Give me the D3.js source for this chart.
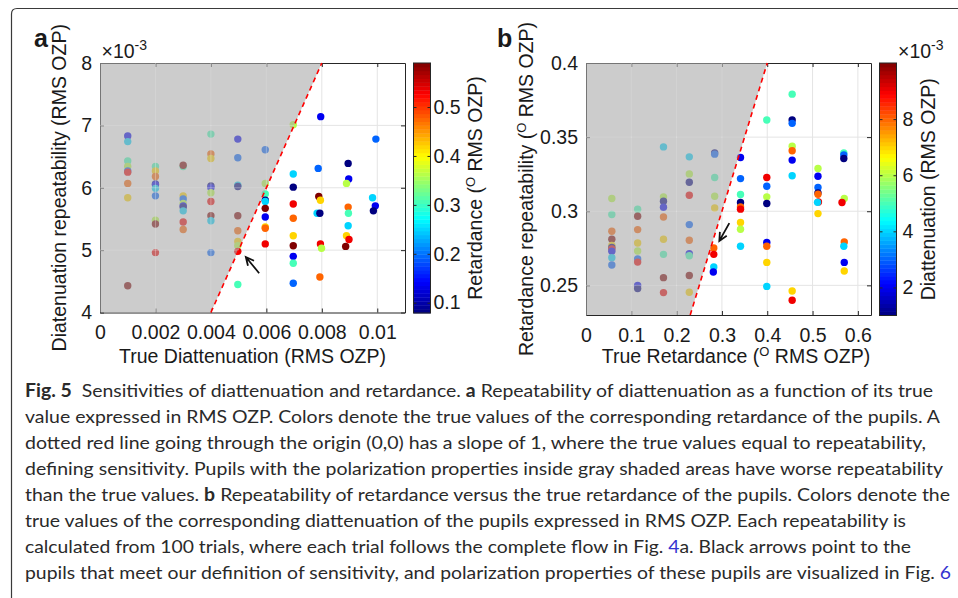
<!DOCTYPE html>
<html lang="en">
<head>
<meta charset="UTF-8">
<title>Fig. 5 sensitivities</title>
<script src="https://cdn.jsdelivr.net/npm/d3@7"></script>
<style>
  body { margin: 0; background: #fff; }
  svg { display: block; }
  text { font-family: "Liberation Sans", Arial, Helvetica, sans-serif; fill: #1a1a1a; }
  text.cap { font-family: Lato, "Open Sans", sans-serif; white-space: pre; fill: #2a2a2a; }
</style>
</head>
<body>
<svg></svg>
<script>
  const width = 958, height = 598

  // ---- panel a: diattenuation (true vs repeatability), colour = retardance
  const diatTrue = [
    0.001, 0.001, 0.001, 0.001, 0.001, 0.001, 0.001, 0.001, 0.001,
    0.002, 0.002, 0.002, 0.002, 0.002, 0.002, 0.002, 0.002, 0.002, 0.002,
    0.003, 0.003, 0.003, 0.003, 0.003, 0.003, 0.003, 0.003, 0.003, 0.003,
    0.004, 0.004, 0.004, 0.004, 0.004, 0.004, 0.004, 0.004, 0.004, 0.004,
    0.00497, 0.00497, 0.00497, 0.00497, 0.00497, 0.00497, 0.00497, 0.00497, 0.00497, 0.00497,
    0.00596, 0.00596, 0.00596, 0.00596, 0.00596, 0.00596, 0.00596, 0.00596, 0.00596, 0.00596,
    0.00697, 0.00697, 0.00697, 0.00697, 0.00697, 0.00697, 0.00697, 0.00697, 0.00697, 0.00697,
    0.00796, 0.00787, 0.00789, 0.00795, 0.00783, 0.00793, 0.00795, 0.00799, 0.00793,
    0.00895, 0.00897, 0.00889, 0.00895, 0.00896, 0.00895, 0.00889, 0.00898, 0.00886,
    0.00995, 0.00983, 0.00993, 0.00986
  ]
  const diatRep = [
    0.00683, 0.00674, 0.00643, 0.00634, 0.00627, 0.00625, 0.00607, 0.00584, 0.00443,
    0.00634, 0.00627, 0.00618, 0.00606, 0.00605, 0.00599, 0.00587, 0.00548, 0.00542, 0.00496,
    0.00634, 0.00636, 0.00587, 0.00582, 0.00575, 0.00571, 0.00569, 0.00563, 0.00545, 0.00533,
    0.00686, 0.00654, 0.00647, 0.00603, 0.00600, 0.00592, 0.00578, 0.00555, 0.00547, 0.00496,
    0.00678, 0.00648, 0.00604, 0.00602, 0.00555, 0.00531, 0.00514, 0.00507, 0.00498, 0.00445,
    0.00661, 0.00607, 0.00590, 0.00580, 0.00578, 0.00567, 0.00553, 0.00537, 0.00535, 0.00510,
    0.00701, 0.00622, 0.00601, 0.00574, 0.00551, 0.00523, 0.00507, 0.00490, 0.00479, 0.00447,
    0.00714, 0.00631, 0.00586, 0.00580, 0.00559, 0.00559, 0.00510, 0.00503, 0.00457,
    0.00639, 0.00614, 0.00607, 0.00569, 0.00559, 0.00539, 0.00523, 0.00517, 0.00506,
    0.00678, 0.00584, 0.00571, 0.00563
  ]
  const diatRetColor = [
    0.136, 0.249, 0.306, 0.363, 0.193, 0.533, 0.476, 0.420, 0.590,
    0.306, 0.420, 0.476, 0.079, 0.136, 0.249, 0.193, 0.363, 0.590, 0.533,
    0.306, 0.590, 0.420, 0.193, 0.363, 0.136, 0.079, 0.249, 0.533, 0.476,
    0.306, 0.476, 0.420, 0.079, 0.136, 0.363, 0.533, 0.590, 0.249, 0.193,
    0.136, 0.193, 0.249, 0.079, 0.590, 0.476, 0.420, 0.363, 0.533, 0.306,
    0.193, 0.363, 0.306, 0.079, 0.249, 0.590, 0.136, 0.420, 0.476, 0.533,
    0.363, 0.249, 0.079, 0.533, 0.476, 0.420, 0.590, 0.136, 0.306, 0.193,
    0.136, 0.193, 0.590, 0.420, 0.249, 0.079, 0.533, 0.363, 0.476,
    0.079, 0.136, 0.363, 0.476, 0.306, 0.249, 0.420, 0.533, 0.590,
    0.193, 0.249, 0.136, 0.079
  ]

  // ---- panel b: retardance (true vs repeatability), colour = diattenuation
  const retTrue = [
    0.057, 0.057, 0.057, 0.057, 0.057, 0.057, 0.057, 0.057, 0.057, 0.057,
    0.114, 0.114, 0.114, 0.114, 0.114, 0.114, 0.114, 0.114, 0.114,
    0.171, 0.171, 0.171, 0.171, 0.171, 0.171, 0.171, 0.171, 0.171,
    0.228, 0.228, 0.228, 0.228, 0.228, 0.228, 0.228, 0.228, 0.228, 0.228,
    0.284, 0.284, 0.284, 0.284, 0.284, 0.282, 0.282, 0.282, 0.281,
    0.341, 0.341, 0.341, 0.341, 0.341, 0.341, 0.341, 0.341, 0.341,
    0.399, 0.399, 0.399, 0.399, 0.399, 0.399, 0.399, 0.399, 0.399,
    0.455, 0.455, 0.455, 0.455, 0.455, 0.455, 0.455, 0.455, 0.455,
    0.512, 0.512, 0.512, 0.512, 0.512, 0.513, 0.511, 0.512,
    0.569, 0.569, 0.569, 0.570, 0.565, 0.570, 0.569, 0.570, 0.570
  ]
  const retRep = [
    0.3086, 0.2978, 0.2865, 0.2811, 0.2770, 0.2755, 0.2745, 0.2730, 0.2687, 0.2637,
    0.3014, 0.2966, 0.2876, 0.2786, 0.2732, 0.2678, 0.2657, 0.2500, 0.2478,
    0.3434, 0.3097, 0.3068, 0.3027, 0.2961, 0.2811, 0.2709, 0.2552, 0.2451,
    0.3367, 0.3252, 0.3196, 0.3108, 0.2910, 0.2804, 0.2714, 0.2700, 0.2566, 0.2453,
    0.3394, 0.3385, 0.3228, 0.3101, 0.3022, 0.2752, 0.2709, 0.2624, 0.2590,
    0.3363, 0.3220, 0.3113, 0.3059, 0.3029, 0.3014, 0.2924, 0.2878, 0.2764,
    0.3615, 0.3228, 0.3169, 0.3097, 0.3052, 0.2789, 0.2764, 0.2655, 0.2493,
    0.3790, 0.3615, 0.3593, 0.3439, 0.3408, 0.3345, 0.3239, 0.2462, 0.2399,
    0.3288, 0.3236, 0.3160, 0.3124, 0.3115, 0.3063, 0.3060, 0.2984,
    0.3394, 0.3380, 0.3356, 0.3086, 0.3059, 0.2793, 0.2764, 0.2655, 0.2597
  ]
  const retDiatColor = [
    0.006, 0.005, 0.008, 0.010, 0.007, 0.001, 0.009, 0.002, 0.004, 0.003,
    0.005, 0.010, 0.008, 0.007, 0.006, 0.003, 0.009, 0.002, 0.001,
    0.004, 0.006, 0.001, 0.002, 0.008, 0.007, 0.005, 0.010, 0.009,
    0.004, 0.006, 0.001, 0.009, 0.003, 0.008, 0.002, 0.005, 0.010, 0.007,
    0.001, 0.003, 0.005, 0.006, 0.007, 0.008, 0.009, 0.004, 0.002,
    0.002, 0.003, 0.005, 0.001, 0.008, 0.009, 0.007, 0.006, 0.004,
    0.005, 0.009, 0.003, 0.006, 0.001, 0.002, 0.008, 0.007, 0.004,
    0.005, 0.001, 0.003, 0.006, 0.008, 0.002, 0.004, 0.007, 0.009,
    0.006, 0.002, 0.003, 0.001, 0.008, 0.009, 0.004, 0.007,
    0.005, 0.003, 0.001, 0.006, 0.009, 0.008, 0.004, 0.002, 0.007
  ]

  // ticks
  const aXTicks = [0, 0.002, 0.004, 0.006, 0.008, 0.01]
  const aYTicks = [0.004, 0.005, 0.006, 0.007, 0.008]
  const aCbTicks = [0.1, 0.2, 0.3, 0.4, 0.5]
  const bXTicks = [0, 0.1, 0.2, 0.3, 0.4, 0.5, 0.6]
  const bYTicks = [0.25, 0.3, 0.35, 0.4]
  const bCbTicks = [0.002, 0.004, 0.006, 0.008]

  // arrows [tail, head] in data units
  const aArrow = [[0.00574, 0.00463], [0.00526, 0.00489]]
  const bArrow = [[0.3163, 0.292], [0.2943, 0.2800]]

  const captionLines = [
    [['Fig. 5', 1], ['  Sensitivities of diattenuation and retardance. '], ['a', 1], [' Repeatability of diattenuation as a function of its true']],
    [['value expressed in RMS OZP. Colors denote the true values of the corresponding retardance of the pupils. A']],
    [['dotted red line going through the origin (0,0) has a slope of 1, where the true values equal to repeatability,']],
    [['defining sensitivity. Pupils with the polarization properties inside gray shaded areas have worse repeatability']],
    [['than the true values. '], ['b', 1], [' Repeatability of retardance versus the true retardance of the pupils. Colors denote the']],
    [['true values of the corresponding diattenuation of the pupils expressed in RMS OZP. Each repeatability is']],
    [['calculated from 100 trials, where each trial follows the complete flow in Fig. '], ['4', 2], ['a. Black arrows point to the']],
    [['pupils that meet our definition of sensitivity, and polarization properties of these pupils are visualized in Fig. '], ['6', 2]]
  ]
  const captionEnds = [933, 940, 926, 943, 950, 906, 911, 951]

  // MATLAB-like jet
  const jet = t => {
    const c = v => Math.max(0, Math.min(1, v)) * 255
    return d3.rgb(c(1.5 - Math.abs(4 * t - 3)), c(1.5 - Math.abs(4 * t - 2)), c(1.5 - Math.abs(4 * t - 1))).toString()
  }

  const svg = d3.select('svg')
      .attr('width', width)
      .attr('height', height)
      .attr('viewBox', [0, 0, width, height])

  // frame
  svg.append('path')
      .attr('d', `M11.5,${height} L11.5,14 Q11.5,8.5 17,8.5 L${width},8.5`)
      .attr('fill', 'none')
      .attr('stroke', '#3a3a3a')
      .attr('stroke-width', 1.2)

  const axisColor = '#262626'
  const fs = 19.5

  // "pre (^O rest" style label with a raised O
  function supLabel(sel, pre, s, rest) {
    sel.append('tspan').text(pre)
    sel.append('tspan').attr('font-size', 13).attr('dy', -7).text(s)
    sel.append('tspan').attr('dy', 7).text(rest)
  }

  function drawPanel(p) {
    const x = d3.scaleLinear().domain(p.xDomain).range([p.left, p.right])
    const y = d3.scaleLinear().domain(p.yDomain).range([p.bottom, p.top])
    const c = d3.scaleSequential(jet).domain(p.cDomain)
    const g = svg.append('g')

    const defs = g.append('defs')
    defs.append('clipPath').attr('id', p.id + '-clip')
        .append('rect')
        .attr('x', p.left).attr('y', p.top)
        .attr('width', p.right - p.left).attr('height', p.bottom - p.top)

    const [x0] = p.xDomain, [y0, y1] = p.yDomain
    const shade = [[x0, y0], [y0, y0], [y1, y1], [x0, y1]].map(d => [x(d[0]), y(d[1])])
    defs.append('clipPath').attr('id', p.id + '-shade')
        .append('polygon').attr('points', shade.join(' '))

    const grid = (sel, color, op) => {
      sel.selectAll('line.gx').data(p.xTicks.filter(d => d > x0)).join('line')
          .attr('class', 'gx')
          .attr('x1', d => x(d)).attr('x2', d => x(d))
          .attr('y1', p.top).attr('y2', p.bottom)
          .attr('stroke', color).attr('stroke-opacity', op)
      sel.selectAll('line.gy').data(p.yTicks.filter(d => d > y0 && d < y1)).join('line')
          .attr('class', 'gy')
          .attr('y1', d => y(d)).attr('y2', d => y(d))
          .attr('x1', p.left).attr('x2', p.right)
          .attr('stroke', color).attr('stroke-opacity', op)
    }
    g.append('g').call(grid, '#e4e4e4', 1)

    // points
    g.append('g')
        .attr('clip-path', `url(#${p.id}-clip)`)
        .selectAll('circle')
        .data(p.xs.map((d, i) => ({x: d, y: p.ys[i], c: p.cs[i]})))
        .join('circle')
        .attr('cx', d => x(d.x))
        .attr('cy', d => y(d.y))
        .attr('r', 3.7)
        .attr('fill', d => c(d.c))

    // axes
    const style = sel => {
      sel.attr('font-size', fs).attr('font-family', null)
      sel.select('.domain').attr('stroke', axisColor)
      sel.selectAll('.tick line').attr('stroke', axisColor)
    }
    g.append('g').attr('transform', `translate(0,${p.bottom})`)
        .call(d3.axisBottom(x).tickValues(p.xTicks).tickFormat(p.xFmt).tickSize(-4).tickSizeOuter(0).tickPadding(13))
        .call(style)
    g.append('g').attr('transform', `translate(0,${p.top})`)
        .call(d3.axisTop(x).tickValues(p.xTicks).tickFormat('').tickSize(-4).tickSizeOuter(0))
        .call(style)
    g.append('g').attr('transform', `translate(${p.left},0)`)
        .call(d3.axisLeft(y).tickValues(p.yTicks).tickFormat(p.yFmt).tickSize(-4).tickSizeOuter(0).tickPadding(8))
        .call(style)
    g.append('g').attr('transform', `translate(${p.right},0)`)
        .call(d3.axisRight(y).tickValues(p.yTicks).tickFormat('').tickSize(-4).tickSizeOuter(0))
        .call(style)

    // grey region where repeatability is worse than the true value
    g.append('polygon')
        .attr('points', shade.join(' '))
        .attr('fill', 'rgb(170,170,170)')
        .attr('fill-opacity', 0.6)
    g.append('g').attr('clip-path', `url(#${p.id}-shade)`).call(grid, '#ffffff', 0.3)

    // y = x line
    g.append('line')
        .attr('x1', x(y0)).attr('y1', y(y0))
        .attr('x2', x(y1)).attr('y2', y(y1))
        .attr('stroke', '#ff0000')
        .attr('stroke-width', 1.6)
        .attr('stroke-dasharray', '5,4')

    // arrow
    const [t, h] = p.arrow.map(d => [x(d[0]), y(d[1])])
    const ang = Math.atan2(t[1] - h[1], t[0] - h[0])
    const barb = s => [h[0] + 9 * Math.cos(ang + s), h[1] + 9 * Math.sin(ang + s)]
    g.append('path')
        .attr('d', `M${t}L${h}M${barb(0.45)}L${h}L${barb(-0.45)}`)
        .attr('fill', 'none')
        .attr('stroke', '#111')
        .attr('stroke-width', 1.8)

    // colour bar
    const cb = p.cb
    const cy = d3.scaleLinear().domain(p.cDomain).range([cb.bottom, cb.top])
    const n = 64
    g.append('g').selectAll('rect')
        .data(d3.range(n))
        .join('rect')
        .attr('x', cb.left)
        .attr('width', cb.right - cb.left)
        .attr('y', i => cy(p.cDomain[0] + (i + 1) * (p.cDomain[1] - p.cDomain[0]) / n))
        .attr('height', (cb.bottom - cb.top) / n + 0.4)
        .attr('fill', i => jet((i + 0.5) / n))
    g.append('rect')
        .attr('x', cb.left).attr('y', cb.top)
        .attr('width', cb.right - cb.left).attr('height', cb.bottom - cb.top)
        .attr('fill', 'none').attr('stroke', axisColor)
    g.append('g').attr('transform', `translate(${cb.right},0)`)
        .call(d3.axisRight(cy).tickValues(p.cTicks).tickFormat(p.cFmt).tickSize(-3).tickSizeOuter(0).tickPadding(cb.pad))
        .call(style)
        .call(s => s.select('.domain').remove())
    g.append('g').attr('transform', `translate(${cb.left},0)`)
        .call(d3.axisLeft(cy).tickValues(p.cTicks).tickFormat('').tickSize(-3).tickSizeOuter(0))
        .call(style)
        .call(s => s.select('.domain').remove())

    // labels
    g.append('text')
        .attr('x', p.labelX).attr('y', 47)
        .attr('font-size', 25).attr('font-weight', 'bold')
        .text(p.letter)

    const xl = g.append('text')
        .attr('x', p.xLabelX).attr('y', 363)
        .attr('text-anchor', 'middle').attr('font-size', fs)
    p.xLabel(xl)

    const yl = g.append('text')
        .attr('transform', `translate(${p.yLabelX},${(p.top + p.bottom) / 2}) rotate(-90)`)
        .attr('text-anchor', 'middle').attr('font-size', fs)
    p.yLabel(yl)

    const cl = g.append('text')
        .attr('transform', `translate(${cb.labelX},${(cb.top + cb.bottom) / 2}) rotate(-90)`)
        .attr('text-anchor', 'middle').attr('font-size', fs)
    p.cLabel(cl)

    if (p.expo) {
      const e = g.append('text')
          .attr('x', p.expo[0]).attr('y', p.expo[1])
          .attr('font-size', fs)
          .text('\u00d710')
      e.append('tspan').attr('font-size', 14).attr('dy', -8).text('-3')
    }
  }

  const fmt = d => d === 0 ? '0' : String(+d.toFixed(4))

  drawPanel({
    id: 'a', letter: 'a', labelX: 34,
    left: 100, right: 405, top: 63, bottom: 312.5,
    xDomain: [0, 0.011], yDomain: [0.004, 0.008],
    xTicks: aXTicks, yTicks: aYTicks, xFmt: fmt, yFmt: d => String(Math.round(d * 1000)),
    xs: diatTrue, ys: diatRep, cs: diatRetColor,
    cDomain: [0.079, 0.59], cTicks: aCbTicks, cFmt: d => String(d),
    cb: {left: 413.5, right: 430.5, top: 63, bottom: 313, pad: 3, labelX: 482},
    arrow: aArrow,
    expo: [101.5, 58],
    xLabelX: 252.5,
    xLabel: s => s.text('True Diattenuation (RMS OZP)'),
    yLabelX: 66,
    yLabel: s => s.text('Diatenuation repeatability (RMS OZP)'),
    cLabel: s => supLabel(s, 'Retardance (', 'O', ' RMS OZP)')
  })

  drawPanel({
    id: 'b', letter: 'b', labelX: 497,
    left: 586, right: 871, top: 63, bottom: 315,
    xDomain: [0, 0.629], yDomain: [0.23, 0.4],
    xTicks: bXTicks, yTicks: bYTicks, xFmt: fmt, yFmt: fmt,
    xs: retTrue, ys: retRep, cs: retDiatColor,
    cDomain: [0.001, 0.01], cTicks: bCbTicks, cFmt: d => String(Math.round(d * 1000)),
    cb: {left: 879.5, right: 896.5, top: 63, bottom: 315.5, pad: 6, labelX: 935},
    arrow: bArrow,
    expo: null,
    xLabelX: 736,
    xLabel: s => supLabel(s, 'True Retardance (', 'O', ' RMS OZP)'),
    yLabelX: 533,
    yLabel: s => supLabel(s, 'Retardance repeatability (', 'O', ' RMS OZP)'),
    cLabel: s => s.text('Diattenuation (RMS OZP)')
  })

  // colour-bar exponent of panel b
  const eb = svg.append('text').attr('x', 898).attr('y', 58).attr('font-size', fs).text('\u00d710')
  eb.append('tspan').attr('font-size', 14).attr('dy', -8).text('-3')

  // caption
  captionLines.forEach((line, i) => {
    const t = svg.append('text')
        .attr('class', 'cap')
        .attr('x', 25)
        .attr('y', 396.5 + i * 26.1)
        .attr('font-size', 18)
        .attr('textLength', captionEnds[i] - 25)
        .attr('lengthAdjust', 'spacingAndGlyphs')
    line.forEach(([s, k]) => {
      t.append('tspan')
          .attr('font-weight', k === 1 ? 'bold' : null)
          .style('fill', k === 2 ? '#3434d0' : null)
          .text(s)
    })
  })
</script>
</body>
</html>
